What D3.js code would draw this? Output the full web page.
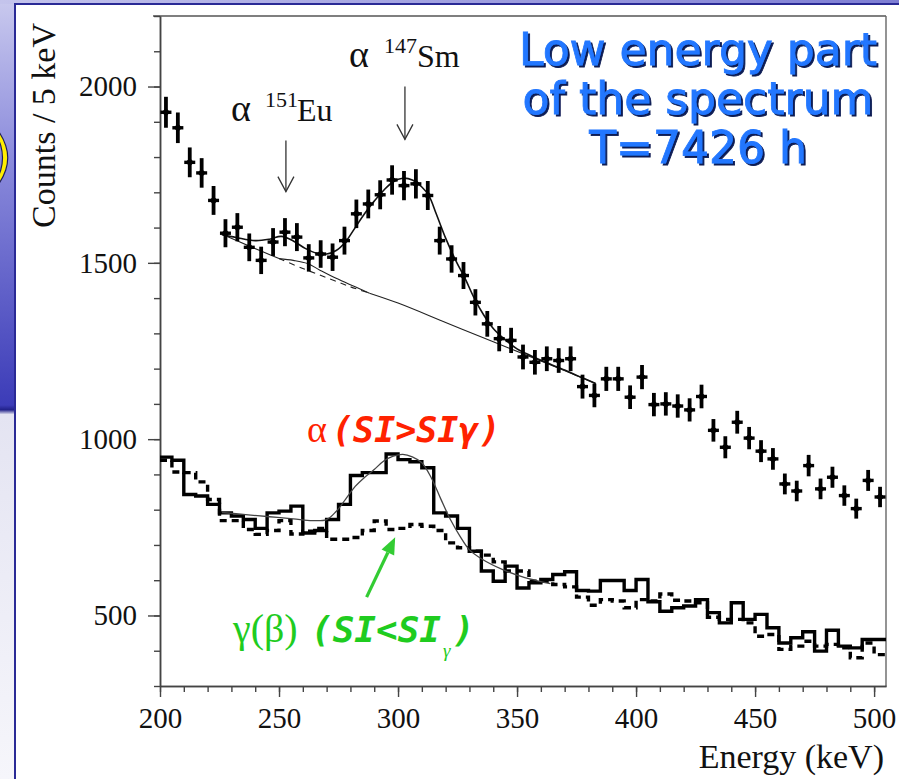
<!DOCTYPE html>
<html>
<head>
<meta charset="utf-8">
<script src="https://cdn.jsdelivr.net/npm/d3@7"></script>
<style>
  html, body { margin: 0; padding: 0; background: #fff; }
  svg { display: block; }
</style>
</head>
<body>
<svg id="chart" width="899" height="779"></svg>
<script>
// ---------------- data ----------------
const binWidth = 5;          // keV per bin
const firstBinEdge = 200;    // keV

// total spectrum, counts per 5 keV bin (points with Poisson error bars)
const totalCounts = [
  1927, 1883, 1785, 1755, 1677, 1584, 1601, 1544, 1507, 1559,
  1587, 1573, 1514, 1525, 1516, 1563, 1639, 1667, 1693, 1735,
  1719, 1724, 1691, 1563, 1511, 1464, 1388, 1327, 1285, 1280,
  1233, 1218, 1228, 1223, 1228, 1149, 1124, 1171, 1171, 1119,
  1176, 1098, 1100, 1094, 1083, 1121, 1025,  977, 1048, 1003,
   966,  944,  873,  853,  925,  859,  892,  840,  803,  883,
   836
];

// alpha-like events (SI > SI_gamma), histogram
const alphaCounts = [
  949, 940, 843, 839, 815, 791, 782, 772, 747, 791,
  796, 810, 734, 741, 772, 815, 897, 905, 905, 958,
  942, 936, 919, 791, 782, 747, 682, 626, 597, 640,
  578, 593, 602, 616, 624, 571, 569, 599, 599, 571,
  602, 539, 512, 522, 527, 545, 508, 479, 536, 489,
  503, 465, 422, 437, 454, 399, 458, 413, 408, 432,
  432
];

// gamma(beta)-like events (SI < SI_gamma), histogram
const gammaCounts = [
  940, 907, 905, 879, 829, 769, 769, 744, 730, 741,
  769, 731, 739, 747, 716, 716, 721, 741, 768, 744,
  747, 758, 753, 741, 706, 692, 682, 671, 652, 626,
  626, 597, 597, 588, 581, 552, 529, 545, 541, 522,
  545, 541, 561, 543, 541, 536, 495, 489, 489, 479,
  441, 446, 404, 413, 427, 413, 418, 408, 380, 422,
  389
];

// fit of the total spectrum: background + 151Eu + 147Sm peaks  [keV, counts]
const totalFit = [
  [226,1580],[232,1572],[240,1563],[246,1567],[251,1575],[256,1562],
  [261,1541],[266,1527],[270,1525],[274,1535],[278,1560],[282,1600],
  [286,1640],[290,1675],[294,1706],[298,1730],[302,1740],[306,1735],
  [310,1715],[313,1690],[316,1640],[320,1570],[324,1510],[328,1458],
  [332,1400],[336,1352],[340,1314],[345,1282],[350,1256],[356,1236],
  [362,1218],[370,1196],[376,1178],[383,1158]
];

// fitted continuum [keV, counts]
const backgroundFit = [
  [227,1578],[238,1546],[250,1512],[260,1484],[270,1458],[280,1432],
  [288,1414],[300,1386],[320,1331],[340,1276],[360,1222],[383,1158]
];
const backgroundDashedRange = [250, 288];   // keV span drawn dashed

// continuum + 151Eu component [keV, counts]
const euComponent = [
  [250,1512],[256,1507],[262,1498],[267,1480],[274,1456],[282,1432],[288,1414]
];

// fit of the alpha-like spectrum [keV, counts]
const alphaFit = [
  [226,792],[236,786],[246,780],[256,774],[264,769],[270,772],[274,795],
  [278,830],[282,866],[286,892],[290,914],[294,938],[298,952],[302,957],
  [306,950],[310,933],[314,890],[318,830],[322,772],[326,725],[330,686],
  [335,661],[344,630],[352,610],[360,596],[364,590]
];

// axis ticks
const xMajorTicks = [200, 250, 300, 350, 400, 450, 500];
const yMajorTicks = [500, 1000, 1500, 2000];

// annotations
const peakArrows = [
  { energy: 252.9, from: 1847, to: 1702 },   // 151Eu
  { energy: 302.9, from: 2000, to: 1850 }    // 147Sm
];
const gammaArrow = { from: [286.8, 552], to: [298.8, 722] };
const titleLines = ["Low energy part", "of the spectrum", "T=7426 h"];

// ---------------- drawing ----------------
const W = 899, H = 779;
const svg = d3.select("#chart");
const defs = svg.append("defs");

const x = d3.scaleLinear().domain([200, 505]).range([160, 886]);
const y = d3.scaleLinear().domain([300, 2200]).range([686, 16]);

// slide background
const bg = defs.append("linearGradient").attr("id", "slideBg")
  .attr("x1", 0).attr("y1", 0).attr("x2", 0).attr("y2", 1);
bg.append("stop").attr("offset", "0%").attr("stop-color", "#c9c9ee");
bg.append("stop").attr("offset", "20%").attr("stop-color", "#8c8cdc");
bg.append("stop").attr("offset", "52%").attr("stop-color", "#3c3cb8");
bg.append("stop").attr("offset", "52.6%").attr("stop-color", "#22228a");
bg.append("stop").attr("offset", "53.2%").attr("stop-color", "#e4e4f2");
bg.append("stop").attr("offset", "100%").attr("stop-color", "#f6f6fb");
svg.append("rect").attr("width", W).attr("height", H).attr("fill", "url(#slideBg)");

const topBar = defs.append("linearGradient").attr("id", "topBar")
  .attr("x1", 0).attr("y1", 0).attr("x2", 1).attr("y2", 0);
topBar.append("stop").attr("offset", "0%").attr("stop-color", "#c4c4ec");
topBar.append("stop").attr("offset", "100%").attr("stop-color", "#7e7ed4");
svg.append("rect").attr("x", 0).attr("y", 0).attr("width", W).attr("height", 4)
  .attr("fill", "url(#topBar)");

// yellow bracket fragment on the left edge
svg.append("text")
  .attr("x", -9).attr("y", 175)
  .attr("font-family", "DejaVu Sans").attr("font-size", 55)
  .attr("fill", "#ffee00").attr("stroke", "#1a1a5a").attr("stroke-width", 1.2)
  .text(")");

// white panel with dark border
svg.append("rect").attr("x", 14).attr("y", 3).attr("width", W - 14).attr("height", H - 3)
  .attr("fill", "#2a2a96");
svg.append("rect").attr("x", 16).attr("y", 5).attr("width", W - 16).attr("height", H - 5)
  .attr("fill", "#ffffff");

// plot frame (top and right)
svg.append("line").attr("x1", 153).attr("x2", 886).attr("y1", 16).attr("y2", 16)
  .attr("stroke", "#555").attr("stroke-width", 1.4);
svg.append("line").attr("x1", 886).attr("x2", 886).attr("y1", 16).attr("y2", 686)
  .attr("stroke", "#666").attr("stroke-width", 1.4);

// axes
function styleAxis(g) {
  g.selectAll("path.domain").attr("stroke", "#444").attr("stroke-width", 1.5);
  g.selectAll(".tick line").attr("stroke", "#444").attr("stroke-width", 1.4);
  g.selectAll(".tick text")
    .attr("font-family", "Liberation Serif, Times New Roman, serif")
    .attr("font-size", 29).attr("fill", "#111");
}
svg.append("g").attr("transform", "translate(0,686)")
  .call(d3.axisBottom(x).tickValues(d3.range(200, 506, 10)).tickSize(6).tickSizeOuter(0).tickFormat(""))
  .call(styleAxis);
svg.append("g").attr("transform", "translate(0,686)")
  .call(d3.axisBottom(x).tickValues(xMajorTicks).tickSize(11).tickSizeOuter(0).tickPadding(10).tickFormat(d3.format("d")))
  .call(styleAxis);
svg.append("g").attr("transform", "translate(160,0)")
  .call(d3.axisLeft(y).tickValues(d3.range(300, 2201, 100)).tickSize(6).tickSizeOuter(0).tickFormat(""))
  .call(styleAxis);
svg.append("g").attr("transform", "translate(160,0)")
  .call(d3.axisLeft(y).tickValues(yMajorTicks).tickSize(12).tickSizeOuter(0).tickPadding(11).tickFormat(d3.format("d")))
  .call(styleAxis);

// axis titles
svg.append("text")
  .attr("transform", "translate(55,23) rotate(-90)")
  .attr("text-anchor", "end")
  .attr("font-family", "Liberation Serif, Times New Roman, serif")
  .attr("font-size", 34).attr("fill", "#111")
  .text("Counts / 5 keV");
svg.append("text")
  .attr("x", 884).attr("y", 768)
  .attr("text-anchor", "end")
  .attr("font-family", "Liberation Serif, Times New Roman, serif")
  .attr("font-size", 34).attr("fill", "#111")
  .text("Energy (keV)");

// clip to plotting area
defs.append("clipPath").attr("id", "plotArea")
  .append("rect").attr("x", 160).attr("y", 16).attr("width", 726).attr("height", 670);
const plot = svg.append("g").attr("clip-path", "url(#plotArea)");

const curve = d3.line().x(d => x(d[0])).y(d => y(d[1])).curve(d3.curveCatmullRom.alpha(0.5));

// histogram helper: left bin edges plus closing right edge
function histPoints(values) {
  const pts = values.map((v, i) => [firstBinEdge + i * binWidth, v]);
  pts.push([firstBinEdge + values.length * binWidth, values[values.length - 1]]);
  return pts;
}
const step = d3.line().x(d => x(d[0])).y(d => y(d[1])).curve(d3.curveStepAfter);

// gamma(beta) histogram (dashed)
plot.append("path").attr("d", step(histPoints(gammaCounts)))
  .attr("fill", "none").attr("stroke", "#000").attr("stroke-width", 3.4)
  .attr("stroke-dasharray", "7,5");

// alpha histogram (solid)
plot.append("path").attr("d", step(histPoints(alphaCounts)))
  .attr("fill", "none").attr("stroke", "#000").attr("stroke-width", 3.4)
  .attr("stroke-linejoin", "miter");

// alpha fit
plot.append("path").attr("d", curve(alphaFit))
  .attr("fill", "none").attr("stroke", "#444").attr("stroke-width", 1.3);

// continuum of the total spectrum: solid, dashed, solid
const [dA, dB] = backgroundDashedRange;
plot.append("path").attr("d", curve(backgroundFit.filter(d => d[0] <= dA)))
  .attr("fill", "none").attr("stroke", "#222").attr("stroke-width", 1.1);
plot.append("path").attr("d", curve(backgroundFit.filter(d => d[0] >= dA && d[0] <= dB)))
  .attr("fill", "none").attr("stroke", "#222").attr("stroke-width", 1.1)
  .attr("stroke-dasharray", "6,5");
plot.append("path").attr("d", curve(backgroundFit.filter(d => d[0] >= dB)))
  .attr("fill", "none").attr("stroke", "#222").attr("stroke-width", 1.1);
plot.append("path").attr("d", curve(euComponent))
  .attr("fill", "none").attr("stroke", "#222").attr("stroke-width", 1.1);

// total fit
plot.append("path").attr("d", curve(totalFit))
  .attr("fill", "none").attr("stroke", "#111").attr("stroke-width", 1.6);

// data points with error bars
const pts = plot.append("g").selectAll("g").data(totalCounts).join("g")
  .attr("transform", (d, i) => `translate(${x(firstBinEdge + (i + 0.5) * binWidth)},0)`);
pts.append("line")
  .attr("x1", 0).attr("x2", 0)
  .attr("y1", d => y(d + Math.sqrt(d))).attr("y2", d => y(d - Math.sqrt(d)))
  .attr("stroke", "#000").attr("stroke-width", 3.8);
pts.append("line")
  .attr("x1", -5.5).attr("x2", 5.5)
  .attr("y1", d => y(d)).attr("y2", d => y(d))
  .attr("stroke", "#000").attr("stroke-width", 3.4);
pts.append("rect")
  .attr("x", -3).attr("y", d => y(d) - 3).attr("width", 6).attr("height", 6)
  .attr("transform", d => `rotate(45,0,${y(d)})`)
  .attr("fill", "#000");

// peak labels and arrows
const serif = "Liberation Serif, Times New Roman, serif";
function peakLabel(xAlpha, xSup, xSym, baseY, sup, sym) {
  const t = svg.append("text").attr("font-family", serif).attr("fill", "#111");
  t.append("tspan").attr("x", xAlpha).attr("y", baseY).attr("font-size", 38).text("α");
  t.append("tspan").attr("x", xSup).attr("y", baseY - 14).attr("font-size", 22).text(sup);
  t.append("tspan").attr("x", xSym).attr("y", baseY).attr("font-size", 32).text(sym);
}
peakLabel(231, 265, 297, 121, "151", "Eu");
peakLabel(349, 384, 417, 67, "147", "Sm");

peakArrows.forEach(a => {
  const ax = x(a.energy), y0 = y(a.from), y1 = y(a.to);
  svg.append("line").attr("x1", ax).attr("x2", ax).attr("y1", y0).attr("y2", y1)
    .attr("stroke", "#333").attr("stroke-width", 1.3);
  svg.append("path").attr("d", `M${ax - 8},${y1 - 15}L${ax},${y1}L${ax + 8},${y1 - 15}`)
    .attr("fill", "none").attr("stroke", "#333").attr("stroke-width", 1.3);
});

// selection labels
const mono = "DejaVu Sans Mono, monospace";
const red = svg.append("text").attr("fill", "#ff2200");
red.append("tspan").attr("x", 307).attr("y", 442).attr("font-family", serif).attr("font-size", 38).text("α");
red.append("tspan").attr("x", 332).attr("y", 442).attr("font-family", mono)
  .attr("font-size", 35).attr("font-weight", "bold").attr("font-style", "italic").text("(SI>SIγ)");

const green = svg.append("text").attr("fill", "#1fcc1f");
green.append("tspan").attr("x", 233).attr("y", 642).attr("font-family", serif).attr("font-size", 40).text("γ(β)");
green.append("tspan").attr("x", 311).attr("y", 642).attr("font-family", mono)
  .attr("font-size", 36).attr("font-weight", "bold").attr("font-style", "italic").text("(SI<SI");
green.append("tspan").attr("x", 443).attr("y", 657).attr("font-family", serif)
  .attr("font-size", 19).attr("font-style", "italic").text("γ");
green.append("tspan").attr("x", 453).attr("y", 642).attr("font-family", mono)
  .attr("font-size", 36).attr("font-weight", "bold").attr("font-style", "italic").text(")");

// green arrow to the gamma bump
{
  const x0 = x(gammaArrow.from[0]), y0 = y(gammaArrow.from[1]);
  const x1 = x(gammaArrow.to[0]), y1 = y(gammaArrow.to[1]);
  const ang = Math.atan2(y1 - y0, x1 - x0);
  const hl = 17, hw = 7;
  const bx = x1 - hl * Math.cos(ang), by = y1 - hl * Math.sin(ang);
  svg.append("line").attr("x1", x0).attr("y1", y0).attr("x2", bx).attr("y2", by)
    .attr("stroke", "#33cc33").attr("stroke-width", 3.2);
  svg.append("path")
    .attr("d", `M${x1},${y1}L${bx + hw * Math.sin(ang)},${by - hw * Math.cos(ang)}L${bx - hw * Math.sin(ang)},${by + hw * Math.cos(ang)}Z`)
    .attr("fill", "#33cc33");
}

// title block with a dark drop shadow
const shadow = defs.append("filter").attr("id", "titleShadow")
  .attr("x", "-5%").attr("y", "-20%").attr("width", "115%").attr("height", "150%");
shadow.append("feDropShadow").attr("dx", 2).attr("dy", 2).attr("stdDeviation", 0.4)
  .attr("flood-color", "#101a55").attr("flood-opacity", 1);
const title = svg.append("g").attr("font-family", "DejaVu Sans, sans-serif")
  .attr("font-size", 44).attr("text-anchor", "middle")
  .attr("filter", "url(#titleShadow)");
titleLines.forEach((s, i) => {
  title.append("text").attr("x", 698).attr("y", 65 + i * 49)
    .attr("fill", "#2277ff").attr("stroke", "#2277ff").attr("stroke-width", 0.8).text(s);
});
</script>
</body>
</html>
